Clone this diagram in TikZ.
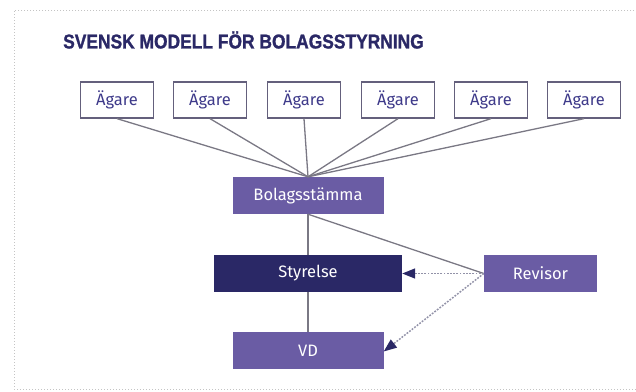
\documentclass[tikz,border=0pt]{standalone}
\usepackage{fontspec}
\setmainfont{Fira Sans}
\newfontfamily\titlefont[FakeStretch=0.87,FakeBold=1.2]{Liberation Sans Bold}
\usetikzlibrary{arrows.meta}
\definecolor{boxpurple}{RGB}{106,92,164}
\definecolor{boxnavy}{RGB}{42,40,102}
\definecolor{ownertext}{RGB}{62,58,138}
\definecolor{ownerframe}{RGB}{100,96,124}
\definecolor{linkgray}{RGB}{122,120,132}
\definecolor{dotgray}{RGB}{146,146,168}
\definecolor{framegray}{RGB}{196,196,196}
\tikzset{
  owner/.style={draw=ownerframe, line width=1.3pt, fill=white, text=ownertext,
    minimum width=73pt, minimum height=36pt, inner sep=0pt, font=\fontsize{16.5}{18}\selectfont},
  organ/.style={fill=boxpurple, text=white, minimum width=151pt, minimum height=37pt,
    inner sep=0pt, font=\fontsize{16.5}{18}\selectfont},
  board/.style={organ, fill=boxnavy, minimum width=188pt},
  auditor/.style={organ, minimum width=113pt},
  link/.style={draw=linkgray, line width=1.3pt},
  audit/.style={draw=dotgray, line width=1.5pt, dash pattern=on 1.8pt off 1.4pt,
    -{Triangle[length=13pt,width=10pt,fill=boxnavy,color=boxnavy]}}
}
\begin{document}
\begin{tikzpicture}[x=1pt, y=-1pt]
\useasboundingbox (0,0) rectangle (636,391);
% dotted outer frame
\draw[framegray, line width=1pt, dotted] (640,10) -- (14,10) -- (14,389) -- (640,389);
% heading
\node[anchor=west, text=boxnavy, inner sep=0pt, font=\titlefont\fontsize{20}{22}\selectfont]
  (title) at (63,40) {SVENSK MODELL FÖR BOLAGSSTYRNING};
% owners
\node[owner] (a1) at (117,100) {Ägare};
\node[owner] (a2) at (210,100) {Ägare};
\node[owner] (a3) at (304,100) {Ägare};
\node[owner] (a4) at (398,100) {Ägare};
\node[owner] (a5) at (491,100) {Ägare};
\node[owner] (a6) at (584,100) {Ägare};
% governing bodies
\node[organ] (stamma) at (308,195.5) {Bolagsstämma};
\node[board] (styrelse) at (308,273.5) {Styrelse};
\node[auditor] (revisor) at (540.5,273.5) {Revisor};
\node[organ] (vd) at (308,350.5) {VD};
% connectors
\foreach \n in {a1,a2,a3,a4,a5,a6}
  \draw[link] (\n.south) -- (stamma.north);
\draw[link] (stamma.south) -- (styrelse.north);
\draw[link] (styrelse.south) -- (vd.north);
\draw[link] (stamma.south) -- (revisor.west);
\draw[audit] (revisor.west) -- (styrelse.east);
\draw[audit] (revisor.west) -- ([yshift=-1pt]vd.east);
\end{tikzpicture}
\end{document}
